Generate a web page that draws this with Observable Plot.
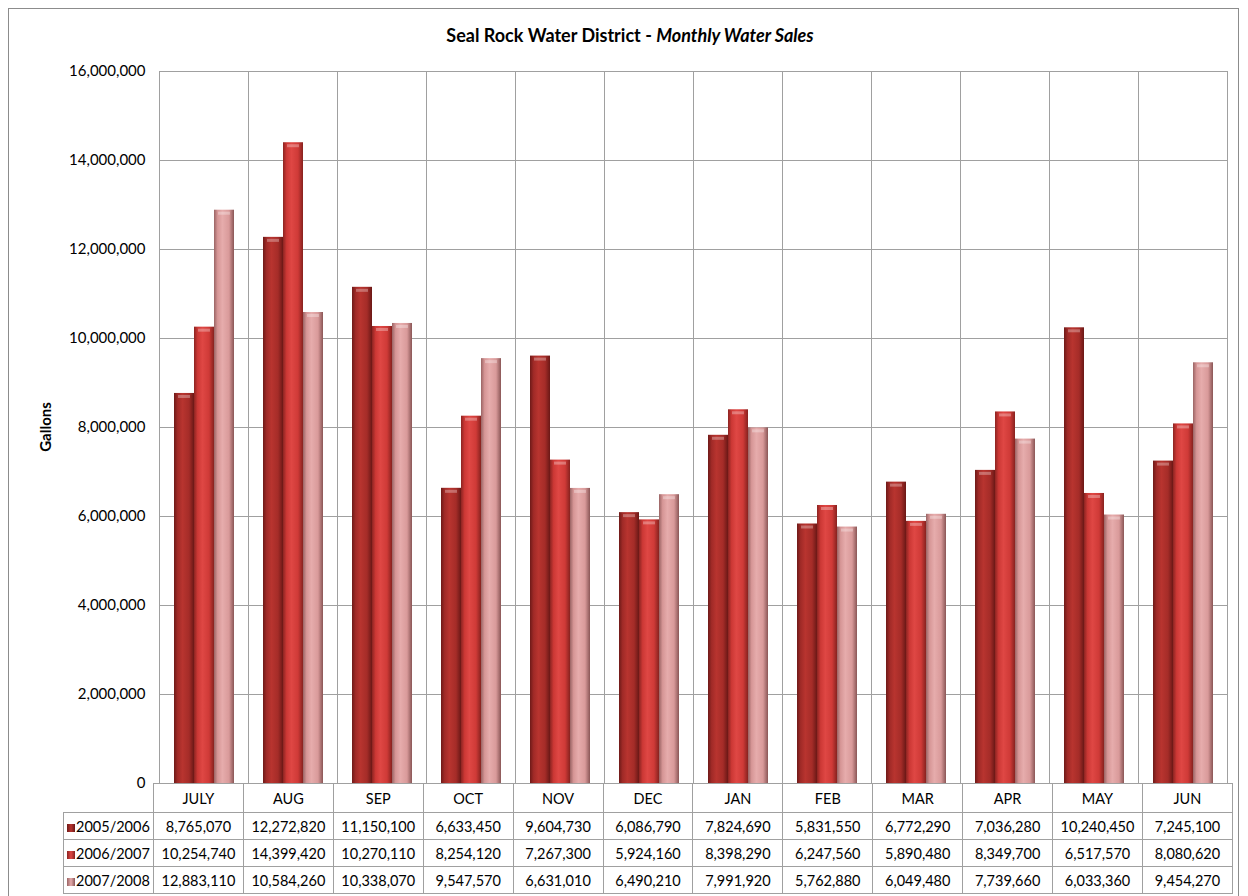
<!DOCTYPE html>
<html>
<head>
<meta charset="utf-8">
<script src="https://cdn.jsdelivr.net/npm/d3@7"></script>
<script src="https://cdn.jsdelivr.net/npm/@observablehq/plot@0.6"></script>
<style>
  html, body { margin: 0; padding: 0; background: #fff; }
  body { width: 1248px; height: 896px; position: relative; overflow: hidden; font-family: "Lato", "Open Sans", sans-serif; color: #000; }
  #border { position: absolute; left: 8px; top: 8px; width: 1231px; height: 900px; border: 1px solid #8c8c8c; box-sizing: border-box; }
  #title { position: absolute; left: 0; width: 1260px; top: 24px; text-align: center; font-size: 18px; font-weight: bold; }
  #ylabel { position: absolute; left: 45px; top: 427px; transform: translate(-50%, -50%) rotate(-90deg); font-size: 15px; font-weight: bold; white-space: nowrap; }
  #chart { position: absolute; left: 0; top: 0; }
  #table { position: absolute; left: 63px; top: 783px; border-collapse: collapse; table-layout: fixed; font-size: 14.5px; }
  #table td { border: 1px solid #a0a0a0; text-align: center; padding: 0; height: 26px; white-space: nowrap; }
  #table tr.months td { height: 28px; }
  #table td.blank { border-left: none; border-top: none; }
  #table td.head { text-align: left; padding-left: 3px; }
  .sw { display: inline-block; width: 8px; height: 8px; margin-right: 1px; vertical-align: 0px; }
</style>
</head>
<body>
<div id="border"></div>
<div id="title">Seal Rock Water District - <i>Monthly Water Sales</i></div>
<div id="ylabel">Gallons</div>
<div id="chart"></div>
<table id="table"></table>
<script>
const months = ["JULY","AUG","SEP","OCT","NOV","DEC","JAN","FEB","MAR","APR","MAY","JUN"];
const seriesNames = ["2005/2006","2006/2007","2007/2008"];
const sales0506 = [8765070,12272820,11150100,6633450,9604730,6086790,7824690,5831550,6772290,7036280,10240450,7245100];
const sales0607 = [10254740,14399420,10270110,8254120,7267300,5924160,8398290,6247560,5890480,8349700,6517570,8080620];
const sales0708 = [12883110,10584260,10338070,9547570,6631010,6490210,7991920,5762880,6049480,7739660,6033360,9454270];
const yTicks = [0,2000000,4000000,6000000,8000000,10000000,12000000,14000000,16000000];

const allSeries = [sales0506, sales0607, sales0708];
const data = [];
allSeries.forEach((vals, si) => vals.forEach((v, mi) => data.push({month: months[mi], series: seriesNames[si], value: v})));

const gradIds = ["g0","g1","g2"];
const fmt = d3.format(",");

const plot = Plot.plot({
  width: 1248,
  height: 800,
  marginLeft: 153,
  marginRight: 16,
  marginTop: 71,
  marginBottom: 17,
  style: {fontFamily: "Lato, 'Open Sans', sans-serif", fontSize: "15px", color: "#000", background: "transparent", overflow: "visible"},
  fx: {domain: months, padding: 0, axis: null},
  x: {domain: seriesNames, paddingInner: 0, paddingOuter: 0.643, axis: null},
  y: {domain: [0, 16000000], ticks: yTicks, axis: null},
  color: {domain: seriesNames, range: gradIds.map(id => `url(#${id})`)},
  marks: [
    Plot.gridY(yTicks, {stroke: "#a0a0a0", strokeOpacity: 1}),
    Plot.frame({stroke: "#a0a0a0"}),
    Plot.barY(data, {fx: "month", x: "series", y: "value", fill: "series", inset: 0}),
    Plot.tickY(data, {fx: "month", x: "series", y: "value", stroke: "#ffffff", strokeOpacity: 0.3, strokeWidth: 3, dy: 3, inset: 4}),
    Plot.axisY(yTicks, {tickSize: 0, tickPadding: 14, tickFormat: fmt, label: null, fontSize: 15})
  ]
});

// gradient defs for cylinder look
const defs = d3.select(plot).insert("defs", ":first-child");
const stops = [
  [["0%","#6e1a18"],["18%","#a02a27"],["42%","#b8342f"],["75%","#a52c28"],["100%","#6a1816"]],
  [["0%","#8c2421"],["18%","#cc3835"],["42%","#df4744"],["75%","#cf3a37"],["100%","#87221f"]],
  [["0%","#9a6464"],["18%","#d69696"],["42%","#e6acac"],["75%","#d99a9a"],["100%","#8a5656"]]
];
gradIds.forEach((id, i) => {
  const g = defs.append("linearGradient").attr("id", id).attr("x1", "0").attr("x2", "1").attr("y1", "0").attr("y2", "0");
  stops[i].forEach(([o, c]) => g.append("stop").attr("offset", o).attr("stop-color", c));
});
document.getElementById("chart").appendChild(plot);

// data table
const table = document.getElementById("table");
const colW = (1232 - 153) / months.length;
const cg = document.createElement("colgroup");
const c0 = document.createElement("col"); c0.style.width = "90px"; cg.appendChild(c0);
months.forEach(() => { const c = document.createElement("col"); c.style.width = colW + "px"; cg.appendChild(c); });
table.appendChild(cg);
table.style.width = (90 + colW * months.length) + "px";
const hr = document.createElement("tr"); hr.className = "months";
const blank = document.createElement("td"); blank.className = "blank"; hr.appendChild(blank);
months.forEach(m => { const td = document.createElement("td"); td.textContent = m; td.style.background = "#fff"; hr.appendChild(td); });
table.appendChild(hr);
const swatch = ["linear-gradient(90deg,#6e1a18,#b8342f,#6a1816)", "linear-gradient(90deg,#8c2421,#df4744,#87221f)", "linear-gradient(90deg,#9a6464,#e6acac,#8a5656)"];
allSeries.forEach((vals, si) => {
  const tr = document.createElement("tr");
  const th = document.createElement("td"); th.className = "head";
  th.innerHTML = `<span class="sw" style="background:${swatch[si]}"></span>${seriesNames[si]}`;
  tr.appendChild(th);
  vals.forEach(v => { const td = document.createElement("td"); td.textContent = fmt(v); tr.appendChild(td); });
  table.appendChild(tr);
});
</script>
</body>
</html>
